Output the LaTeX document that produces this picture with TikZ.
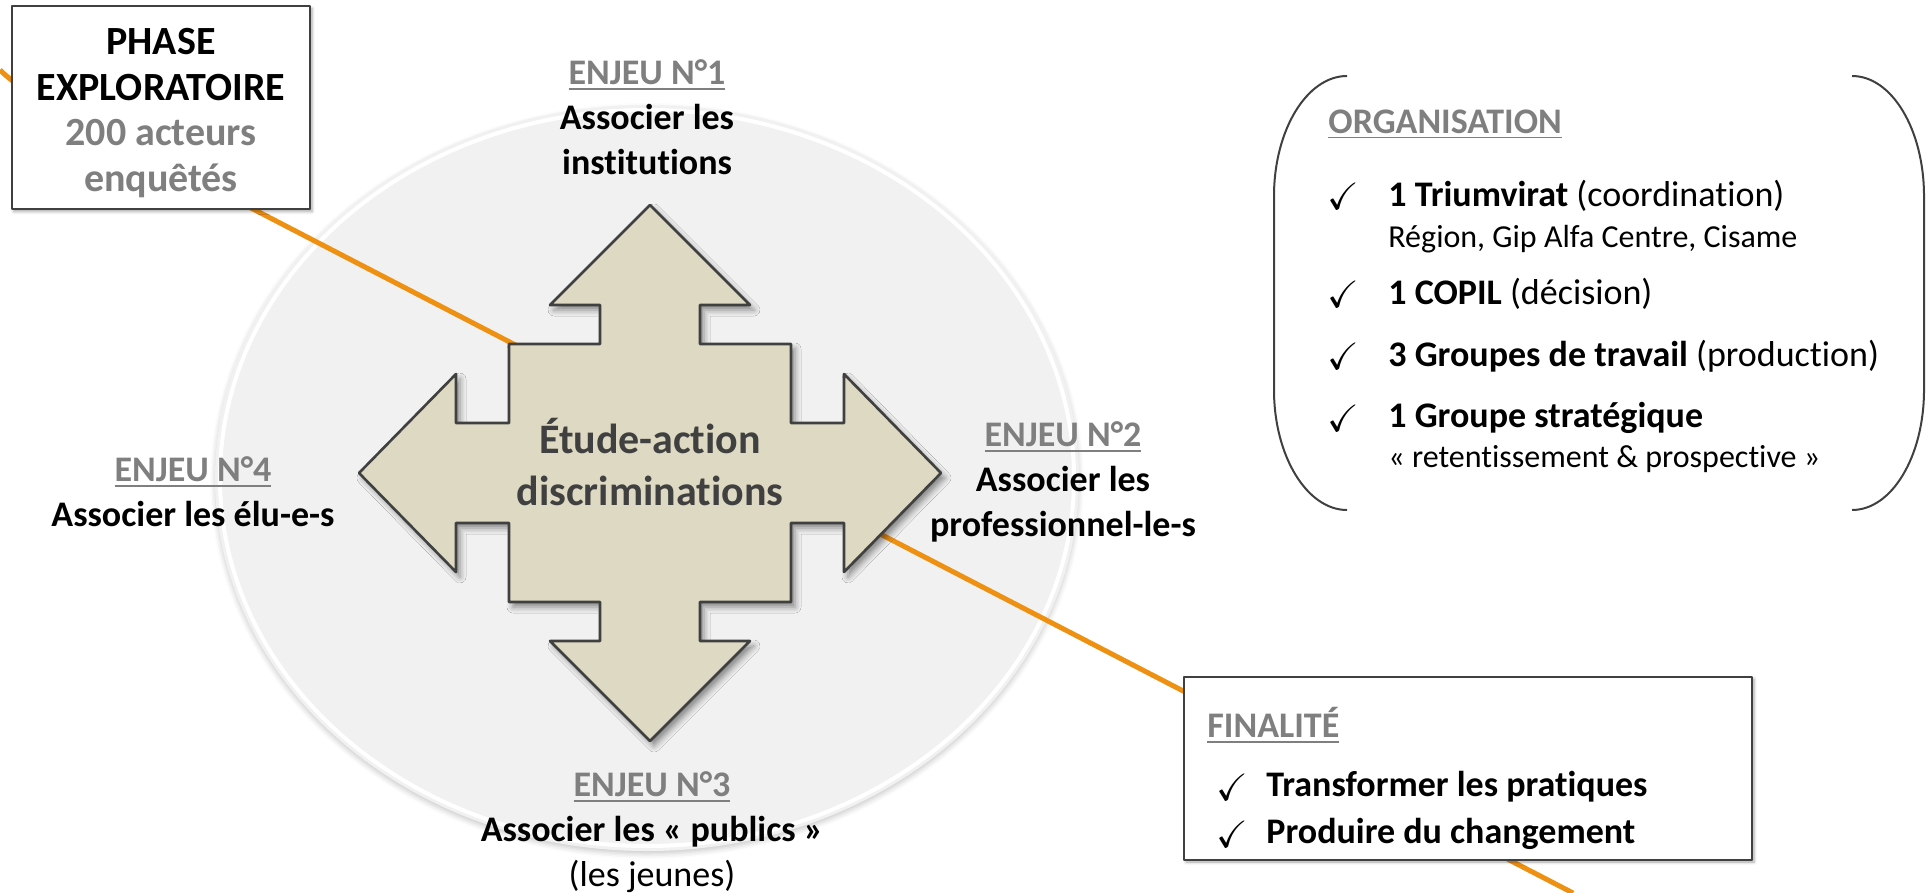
\documentclass[tikz,border=0pt]{standalone}
\usepackage{fontspec}
\setmainfont{Carlito}[Ligatures=NoCommon]
\usepackage{amssymb}
\usetikzlibrary{shadows.blur}
\definecolor{discgrey}{HTML}{F1F1F1}
\definecolor{trailorange}{HTML}{EE9012}
\definecolor{crosstan}{HTML}{DDD9C3}
\definecolor{edgegrey}{HTML}{404040}
\definecolor{labelgrey}{HTML}{7F7F7F}
\newcommand{\enjeuhead}[1]{{\color{labelgrey}\setbox0\hbox{#1}\rlap{\rule[-2.6pt]{\wd0}{0.9pt}}\box0}}
\begin{document}
\begin{tikzpicture}[x=0.5pt, y=-0.5pt, line join=round,
    enjeu/.style={align=center, font=\fontsize{18}{22.5}\selectfont\bfseries},
    boxframe/.style={draw=edgegrey, line width=1pt, fill=white, blur shadow={shadow xshift=1pt, shadow yshift=-1pt, shadow blur radius=1.5pt, shadow opacity=35}},
    crossshape/.style={fill=crosstan, draw=edgegrey, line width=1.3pt, blur shadow={shadow xshift=2pt, shadow yshift=-2.5pt, shadow blur radius=3pt, shadow opacity=45}},
    trail/.style={trailorange, line width=2.5pt},
    orgitem/.style={anchor=west, inner sep=0pt, font=\fontsize{18}{22}\selectfont},
    orgsub/.style={anchor=west, inner sep=0pt, font=\fontsize{16}{20}\selectfont},
    checkmk/.style={inner sep=0pt, font=\fontsize{19}{22}\selectfont},
    bracket/.style={draw=edgegrey, line width=1pt}]
    \useasboundingbox (0,0) rectangle (1927,893);
    \fill[discgrey, blur shadow={shadow xshift=0pt, shadow yshift=-1.5pt, shadow blur radius=2.5pt, shadow opacity=20}] (647,478) ellipse [x radius=432, y radius=373];
    \draw[white, line width=2pt] (647,478) ellipse [x radius=427, y radius=368];
    \coordinate (trailstart) at (0,70);
    \coordinate (trailbend) at (60,109);
    \coordinate (trailend) at (1573,893);
    \draw[trail] (trailstart) .. controls (12,82) and (30,94) .. (trailbend) -- (trailend);
    \draw[crossshape] (650,205) -- (750,305) -- (700,305) -- (700,344) -- (791,344) -- (791,423) -- (844,423) -- (844,374) -- (941,473) -- (844,572) -- (844,523) -- (791,523) -- (791,602) -- (700,602) -- (700,641) -- (750,641) -- (650,741) -- (550,641) -- (600,641) -- (600,602) -- (509,602) -- (509,523) -- (456,523) -- (456,572) -- (359,473) -- (456,374) -- (456,423) -- (509,423) -- (509,344) -- (600,344) -- (600,305) -- (550,305) -- cycle;
    \node[align=center, text=edgegrey, font=\fontsize{21}{26}\selectfont\bfseries] (hub) at (650,462) {Étude-action\\discriminations};
    \node[enjeu] (enjeu1) at (647,117) {\enjeuhead{ENJEU N°1}\\Associer les\\institutions};
    \node[enjeu] (enjeu2) at (1063,482) {\enjeuhead{ENJEU N°2}\\Associer les\\professionnel-le-s};
    \node[enjeu] (enjeu3) at (652,832) {\enjeuhead{ENJEU N°3}\\Associer les « publics »\\\mdseries(les jeunes)};
    \node[enjeu] (enjeu4) at (193,492) {\enjeuhead{ENJEU N°4}\\Associer les élu-e-s};
    \node[boxframe, minimum width=149pt, minimum height=101.5pt] (phase) at (161,108) {};
    \node[enjeu, font=\fontsize{20}{22.7}\selectfont\bfseries] (phasetext) at (161,113) {PHASE\\EXPLORATOIRE\\{\color{labelgrey}200 acteurs}\\{\color{labelgrey}enquêtés}};
    \node[boxframe, minimum width=284pt, minimum height=91.5pt] (finbox) at (1468,768.5) {};
    \node[orgitem, font=\fontsize{18}{22}\selectfont\bfseries] (fintitle) at (1207,725) {\enjeuhead{FINALITÉ}};
    \foreach \txt/\y [count=\i] in {Transformer les pratiques/787, Produire du changement/834} {
        \node[checkmk] (fintick\i) at (1232,\y) {$\checkmark$};
        \node[orgitem, font=\fontsize{18}{22}\selectfont\bfseries] (fin\i) at (1266,\y) {\txt};
    }
    \draw[bracket] (1347,76) .. controls (1307,76) and (1274,130) .. (1274,196) -- (1274,390) .. controls (1274,456) and (1307,510) .. (1347,510);
    \draw[bracket] (1852,76) .. controls (1892,76) and (1924,130) .. (1924,196) -- (1924,390) .. controls (1924,456) and (1892,510) .. (1852,510);
    \node[orgitem, font=\fontsize{18}{22}\selectfont\bfseries] (orgtitle) at (1328,124) {\enjeuhead{ORGANISATION}};
    \foreach \head/\rest/\y [count=\i] in {1 Triumvirat/(coordination)/196, 1 COPIL/(décision)/294, 3 Groupes de travail/(production)/356, 1 Groupe stratégique//418} {
        \node[checkmk] (orgtick\i) at (1343,\y) {$\checkmark$};
        \node[orgitem] (org\i) at (1388,\y) {\textbf{\head} \rest};
    }
    \node[orgsub] (orgsub1) at (1388,239) {Région, Gip Alfa Centre, Cisame};
    \node[orgsub] (orgsub4) at (1388,459) {« retentissement \& prospective »};
\end{tikzpicture}
\end{document}
